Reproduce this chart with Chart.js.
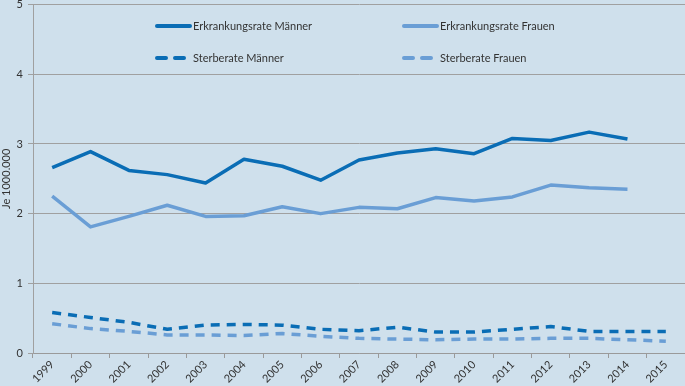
<!DOCTYPE html>
<html>
<head>
<meta charset="utf-8">
<script src="https://cdn.jsdelivr.net/npm/chart.js@4"></script>
<style>
  html, body { margin: 0; padding: 0; background: #cfe0ec; overflow: hidden; }
  #wrap { width: 685px; height: 386px; overflow: hidden; }
  #rateChart { display: block; margin-top: -7px; }
</style>
</head>
<body>
<div id="wrap"><canvas id="rateChart" width="685" height="393"></canvas></div>
<script>
const years = ["1999", "2000", "2001", "2002", "2003", "2004", "2005", "2006", "2007",
  "2008", "2009", "2010", "2011", "2012", "2013", "2014", "2015"];
const erkrankungMaenner = [2.66, 2.89, 2.62, 2.56, 2.44, 2.78, 2.68, 2.48, 2.77,
  2.87, 2.93, 2.86, 3.08, 3.05, 3.17, 3.07, null];
const erkrankungFrauen = [2.25, 1.81, 1.96, 2.12, 1.96, 1.97, 2.10, 2.00, 2.09,
  2.07, 2.23, 2.18, 2.24, 2.41, 2.37, 2.35, null];
const sterbeMaenner = [0.58, 0.51, 0.44, 0.34, 0.40, 0.41, 0.40, 0.34, 0.32,
  0.37, 0.30, 0.30, 0.34, 0.38, 0.31, 0.31, 0.31];
const sterbeFrauen = [0.42, 0.35, 0.31, 0.26, 0.26, 0.25, 0.28, 0.24, 0.21,
  0.20, 0.19, 0.20, 0.20, 0.21, 0.21, 0.19, 0.17];
const yTicks = [0, 1, 2, 3, 4, 5];

const darkBlue = "#0a6db5";
const lightBlue = "#6a9ed5";
const fontFamily = "Lato, 'Open Sans', sans-serif";

// legend drawn as 2x2 grid inside the plot, like the original
// (canvas is shifted up 7px, so legend y values include that offset)
const gridLegend = {
  id: "gridLegend",
  afterDraw(chart) {
    const ctx = chart.ctx;
    const slots = [
      { x: 156, y: 33 }, { x: 403, y: 33 },
      { x: 156, y: 65 }, { x: 403, y: 65 },
    ];
    ctx.save();
    chart.data.datasets.forEach((ds, i) => {
      const s = slots[i];
      ctx.strokeStyle = ds.borderColor;
      ctx.lineWidth = 4;
      ctx.lineCap = "round";
      ctx.setLineDash(ds.borderDash && ds.borderDash.length ? [9, 9] : []);
      ctx.beginPath();
      ctx.moveTo(s.x + 1, s.y);
      ctx.lineTo(s.x + 34, s.y);
      ctx.stroke();
      ctx.setLineDash([]);
      ctx.fillStyle = "#333333";
      ctx.font = "11px " + fontFamily;
      ctx.textBaseline = "middle";
      ctx.textAlign = "left";
      ctx.fillText(ds.label, s.x + 37, s.y);
    });
    ctx.restore();
  },
};

new Chart(document.getElementById("rateChart").getContext("2d"), {
  type: "line",
  data: {
    labels: years,
    datasets: [
      { label: "Erkrankungsrate Männer", data: erkrankungMaenner, borderColor: darkBlue, borderWidth: 3.5 },
      { label: "Erkrankungsrate Frauen", data: erkrankungFrauen, borderColor: lightBlue, borderWidth: 3.5 },
      { label: "Sterberate Männer", data: sterbeMaenner, borderColor: darkBlue, borderWidth: 3.5, borderDash: [9, 7] },
      { label: "Sterberate Frauen", data: sterbeFrauen, borderColor: lightBlue, borderWidth: 3.5, borderDash: [9, 7] },
    ],
  },
  options: {
    responsive: false,
    animation: false,
    devicePixelRatio: 1,
    layout: { padding: 0 },
    elements: {
      point: { radius: 0 },
      line: { tension: 0, fill: false, borderCapStyle: "butt", borderJoinStyle: "round" },
    },
    plugins: {
      legend: { display: false },
      tooltip: { enabled: false },
    },
    scales: {
      x: {
        offset: true,
        grid: { offset: true, drawOnChartArea: false, drawTicks: true, tickLength: 5, color: "#9a9a9a" },
        border: { color: "#9a9a9a", width: 1 },
        ticks: {
          color: "#333333",
          font: { family: fontFamily, size: 11 },
          minRotation: 45,
          maxRotation: 45,
          padding: 0,
        },
        afterFit(scale) { scale.height = 33; },
      },
      y: {
        min: 0,
        max: 5,
        afterBuildTicks(scale) { scale.ticks = yTicks.map((v) => ({ value: v })); },
        grid: { color: "#a0a0a0", lineWidth: 1, tickLength: 5 },
        border: { color: "#a0a0a0", width: 1 },
        ticks: {
          color: "#333333",
          font: { family: fontFamily, size: 11 },
          padding: 5,
        },
        title: {
          display: true,
          text: "Je 1000.000",
          color: "#333333",
          font: { family: fontFamily, size: 11 },
          padding: 0,
        },
        afterFit(scale) { scale.width = 33; },
      },
    },
  },
  plugins: [gridLegend],
});
</script>
</body>
</html>
